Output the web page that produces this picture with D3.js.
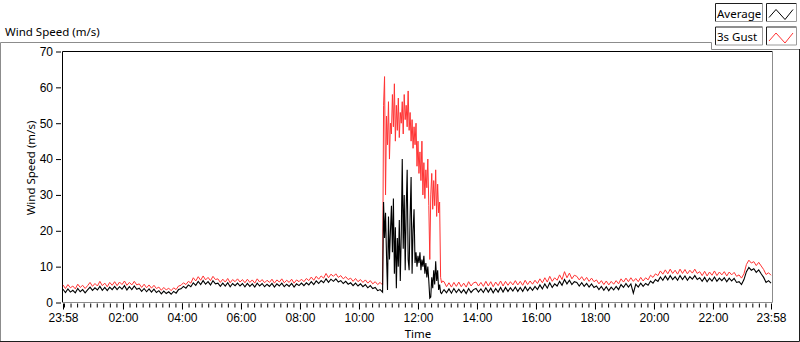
<!DOCTYPE html>
<html lang="en">
<head>
    <meta charset="UTF-8">
    <title>Wind Speed (m/s)</title>
    <script src="https://d3js.org/d3.v7.min.js"></script>
    <style>
        body {
            margin: 0;
            padding: 0;
            background-color: white;
        }
        svg {
            display: block;
            font-family: 'Segoe UI', 'Noto Sans', sans-serif;
            font-size: 11.5px;
        }
    </style>
</head>
<body>
    <div id="chart"></div>

    <script>
        // time in minutes from midnight (23:58 of the previous day = -2)
        const segStart = [-2, 650, 773];
        const segStep = [5, 2, 5];

        // 23:58 -> 10:48, every 5 min
        const gustA = [
            4.9,3.9,5.0,4.1,4.6,3.8,5.1,4.2,4.8,3.9,4.7,
            5.6,4.5,5.3,4.6,5.9,4.7,5.4,4.4,5.6,4.8,
            5.8,4.7,5.7,5.0,6.0,4.8,5.6,4.9,5.9,4.9,
            5.2,4.2,5.1,4.1,4.9,4.0,4.8,3.9,
            4.3,3.4,4.2,3.5,4.0,3.3,4.1,3.6,
            4.6,4.8,5.5,5.0,5.9,5.4,
            6.9,6.0,7.2,6.2,7.4,6.3,7.0,6.1,7.3,6.4,
            6.6,5.6,6.5,5.7,6.7,5.5,6.4,5.8,6.6,5.7,
            6.4,5.5,6.5,5.6,6.3,5.4,6.6,5.7,6.4,5.5,6.2,5.6,6.5,5.4,6.3,5.7,6.6,5.5,6.2,5.6,6.5,5.4,6.3,5.8,
            6.5,5.8,6.7,6.1,7.1,6.2,7.3,6.5,7.4,6.8,8.1,6.9,7.9,7.3,8.0,7.0,
            7.5,6.6,7.2,6.4,6.8,5.9,6.7,5.8,6.4,5.6,
            6.3,5.4,6.1,5.2,5.8,5.0,5.6,4.9
        ];
        const avgA = [
            3.7,2.8,3.8,2.9,3.4,2.7,3.9,3.0,3.6,2.7,3.5,
            4.3,3.4,4.1,3.5,4.5,3.4,4.2,3.3,4.3,3.6,
            4.5,3.6,4.4,3.7,4.7,3.5,4.4,3.6,4.6,3.7,
            4.0,3.1,3.9,3.0,3.8,2.9,3.7,2.8,
            3.3,2.4,3.2,2.5,3.0,2.3,3.1,2.6,
            3.6,3.8,4.5,4.0,4.9,4.4,
            5.5,4.8,5.9,5.0,6.1,5.1,5.8,4.9,6.1,5.2,
            5.4,4.5,5.4,4.6,5.5,4.4,5.3,4.7,5.4,4.6,
            5.3,4.4,5.3,4.5,5.2,4.3,5.4,4.6,5.3,4.4,5.1,4.5,5.3,4.3,5.2,4.6,5.4,4.4,5.1,4.5,5.3,4.3,5.2,4.7,
            5.4,4.7,5.5,4.9,5.8,5.0,6.0,5.3,6.1,5.5,6.6,5.6,6.5,5.9,6.6,5.7,
            6.1,5.3,5.9,5.1,5.5,4.7,5.4,4.6,5.2,4.4,
            5.0,4.1,4.7,3.9,4.2,3.3,3.6,2.9
        ];

        // 10:50 -> 12:50, every 2 min
        const gustB = [
            55,63,30,52,44,56,40,50,47,58,49,61,45,55,48,57,46,53,50,56,
            47,58,51,55,49,59,48,53,45,51,43,49,44,50,38,45,36,42,34,45,
            30,39,29,37,32,40,27,12,30,36,26,34,27,37,24,33,25,28,7,5.5,6
        ];
        const avgB = [
            28,18,25,13,3.5,24,12,20,27,14,29,8,21,4,18,10,23,6,19,40,
            15,30,9,26,37,12,9,24,35,8,20,26,11,14,10,13,11,14,9,12,
            10,13,8,11,7,10,6,1.2,1.5,7,4,9,5,11.5,6,9,3.5,5,2.8,2.5,3
        ];

        // 12:53 -> 23:58, every 5 min
        const gustC = [
            5.8,4.4,5.5,4.3,5.6,4.5,5.7,4.4,5.4,4.3,5.8,4.6,5.5,
            5.7,4.6,5.6,4.5,5.9,4.6,5.8,4.4,5.7,4.7,6.0,4.6,
            5.9,4.8,5.8,4.9,6.1,4.9,5.9,4.8,6.2,5.0,6.0,5.1,
            6.2,5.3,6.6,5.5,6.9,5.7,7.3,5.9,6.9,6.2,
            7.7,6.4,8.6,6.9,8.2,6.6,7.6,
            7.3,6.3,7.2,6.1,7.0,5.9,6.8,5.8,
            6.3,5.2,6.1,5.0,6.0,4.9,5.9,5.1,6.1,5.2,
            6.6,5.7,6.8,5.8,6.9,5.9,6.7,5.8,7.0,6.0,6.9,6.3,
            7.6,7.0,8.0,7.5,
            8.8,7.9,9.1,8.0,9.3,8.1,9.0,7.9,9.3,8.1,9.2,8.0,9.0,8.2,9.3,8.1,
            8.6,7.5,8.7,7.4,8.5,7.6,8.8,7.5,8.5,7.7,8.6,7.4,8.5,7.7,8.4,7.3,
            7.7,6.8,8.0,
            10.6,11.8,11.0,
            11.4,10.3,11.2,10.2,
            9.2,7.8,8.3,7.6
        ];
        const avgC = [
            3.6,2.7,3.8,2.6,3.9,2.8,3.7,2.7,3.6,2.5,3.9,2.8,3.6,
            3.9,2.9,3.8,2.8,4.1,2.9,4.0,2.7,3.9,2.9,4.2,2.9,
            4.2,3.1,4.1,3.2,4.3,3.1,4.2,3.1,4.4,3.3,4.3,3.4,
            4.5,3.6,4.9,3.8,5.2,4.0,5.5,4.2,5.2,4.6,
            5.9,4.8,6.4,5.2,6.2,5.0,5.8,
            5.6,4.6,5.5,4.5,5.3,4.3,5.2,4.2,
            4.6,3.6,4.5,3.4,4.4,3.3,4.3,3.5,4.5,3.6,
            5.0,4.2,5.3,4.3,5.2,2.6,5.1,4.3,5.4,4.5,5.3,4.8,
            6.0,5.4,6.4,5.9,
            7.1,6.2,7.4,6.3,7.5,6.4,7.2,6.2,7.5,6.4,7.4,6.2,7.2,6.5,7.5,6.4,
            6.9,5.9,7.0,5.8,6.8,6.0,7.1,5.9,6.8,6.1,6.9,5.8,6.8,6.0,6.7,5.6,
            5.8,5.0,6.4,
            8.6,9.8,9.0,
            9.4,8.4,9.1,8.0,
            7.0,5.6,6.1,5.4
        ];

        const yTicks = [0, 10, 20, 30, 40, 50, 60, 70];
        const xTicks = [-2, 120, 240, 360, 480, 600, 720, 840, 960, 1080, 1200, 1320, 1438];
        const seriesNames = ["Average", "3s Gust"];
        const seriesColors = ["#000000", "#ff3333"];

        const width = 800, height = 342;
        const svg = d3.select("#chart").append("svg")
            .attr("width", width)
            .attr("height", height);

        function toPoints(starts, steps, arrays) {
            let pts = [];
            arrays.forEach((arr, s) => {
                arr.forEach((v, i) => pts.push({t: starts[s] + i * steps[s], v: v}));
            });
            return pts;
        }
        const avgData = toPoints(segStart, segStep, [avgA, avgB, avgC]);
        const gustData = toPoints(segStart, segStep, [gustA, gustB, gustC]);

        const x = d3.scaleLinear().domain([-2, 1438]).range([63, 771]);
        const y = d3.scaleLinear().domain([0, 70]).range([302.5, 51.5]);

        // outer panel frame
        svg.append("text").attr("x", 5).attr("y", 36).text("Wind Speed (m/s)");
        const frame = svg.append("g").attr("fill", "none").attr("stroke-width", 1);
        frame.append("path").attr("stroke", "#8c8c8c")
            .attr("d", "M0.5,341 V42.5 H711.5 V49.5 H799");
        frame.append("path").attr("stroke", "#1e1e1e")
            .attr("d", "M799.5,49 V341.5 H0");

        // plot frame
        frame.append("path").attr("stroke", "#000")
            .attr("d", "M62.5,302 V51.5 H772");
        frame.append("path").attr("stroke", "#8c8c8c")
            .attr("d", "M772.5,51 V302.5 H62");

        // data lines
        const line = d3.line().x(d => x(d.t)).y(d => y(d.v));
        const plot = svg.append("g");
        plot.append("path").datum(gustData)
            .attr("fill", "none").attr("stroke", seriesColors[1]).attr("stroke-width", 1)
            .attr("d", line);
        plot.append("path").datum(avgData)
            .attr("fill", "none").attr("stroke", seriesColors[0]).attr("stroke-width", 1.1)
            .attr("d", line);

        // y axis
        const yAxis = svg.append("g")
            .attr("transform", "translate(61,0)")
            .call(d3.axisLeft(y).tickValues(yTicks).tickSize(5).tickPadding(3));
        yAxis.select(".domain").remove();
        yAxis.selectAll("text").attr("font-size", 12).attr("font-family", null).attr("fill", "#000");

        // x axis: minor ticks every 2h/9, major ticks with labels
        const minorTicks = d3.range(0, 1438, 120 / 9);
        const xMinor = svg.append("g")
            .attr("transform", "translate(0,303.5)")
            .call(d3.axisBottom(x).tickValues(minorTicks).tickSize(4).tickFormat(""));
        xMinor.select(".domain").remove();

        const fmt = m => {
            const mm = (m + 1440) % 1440;
            return String(Math.floor(mm / 60)).padStart(2, "0") + ":" + String(mm % 60).padStart(2, "0");
        };
        const xAxis = svg.append("g")
            .attr("transform", "translate(0,303.5)")
            .call(d3.axisBottom(x).tickValues(xTicks).tickSize(6).tickPadding(4).tickFormat(fmt));
        xAxis.select(".domain").remove();
        xAxis.selectAll("text").attr("font-size", 12).attr("font-family", null).attr("fill", "#000");

        // axis titles
        svg.append("text")
            .attr("transform", "translate(35,168) rotate(-90)")
            .attr("text-anchor", "middle")
            .text("Wind Speed (m/s)");
        svg.append("text")
            .attr("x", 418).attr("y", 338)
            .attr("text-anchor", "middle")
            .text("Time");

        // legend
        const legend = svg.append("g");
        seriesNames.forEach((name, i) => {
            const top = 3.5 + i * 23.5;
            const g = legend.append("g").attr("transform", `translate(0,${top})`);
            [[715.5, 47], [766.5, 30]].forEach(([bx, bw]) => {
                g.append("path").attr("fill", "none").attr("stroke", "#1e1e1e")
                    .attr("d", `M${bx},18 V0 H${bx + bw}`);
                g.append("path").attr("fill", "none").attr("stroke", "#9a9a9a")
                    .attr("d", `M${bx + bw},0 V18 H${bx}`);
            });
            g.append("text").attr("x", 717).attr("y", 14).text(name);
            g.append("path").attr("fill", "none")
                .attr("stroke", seriesColors[i]).attr("stroke-width", 1)
                .attr("d", "M769,14 L776,6 L785,16 L793,6");
        });
    </script>
</body>
</html>
